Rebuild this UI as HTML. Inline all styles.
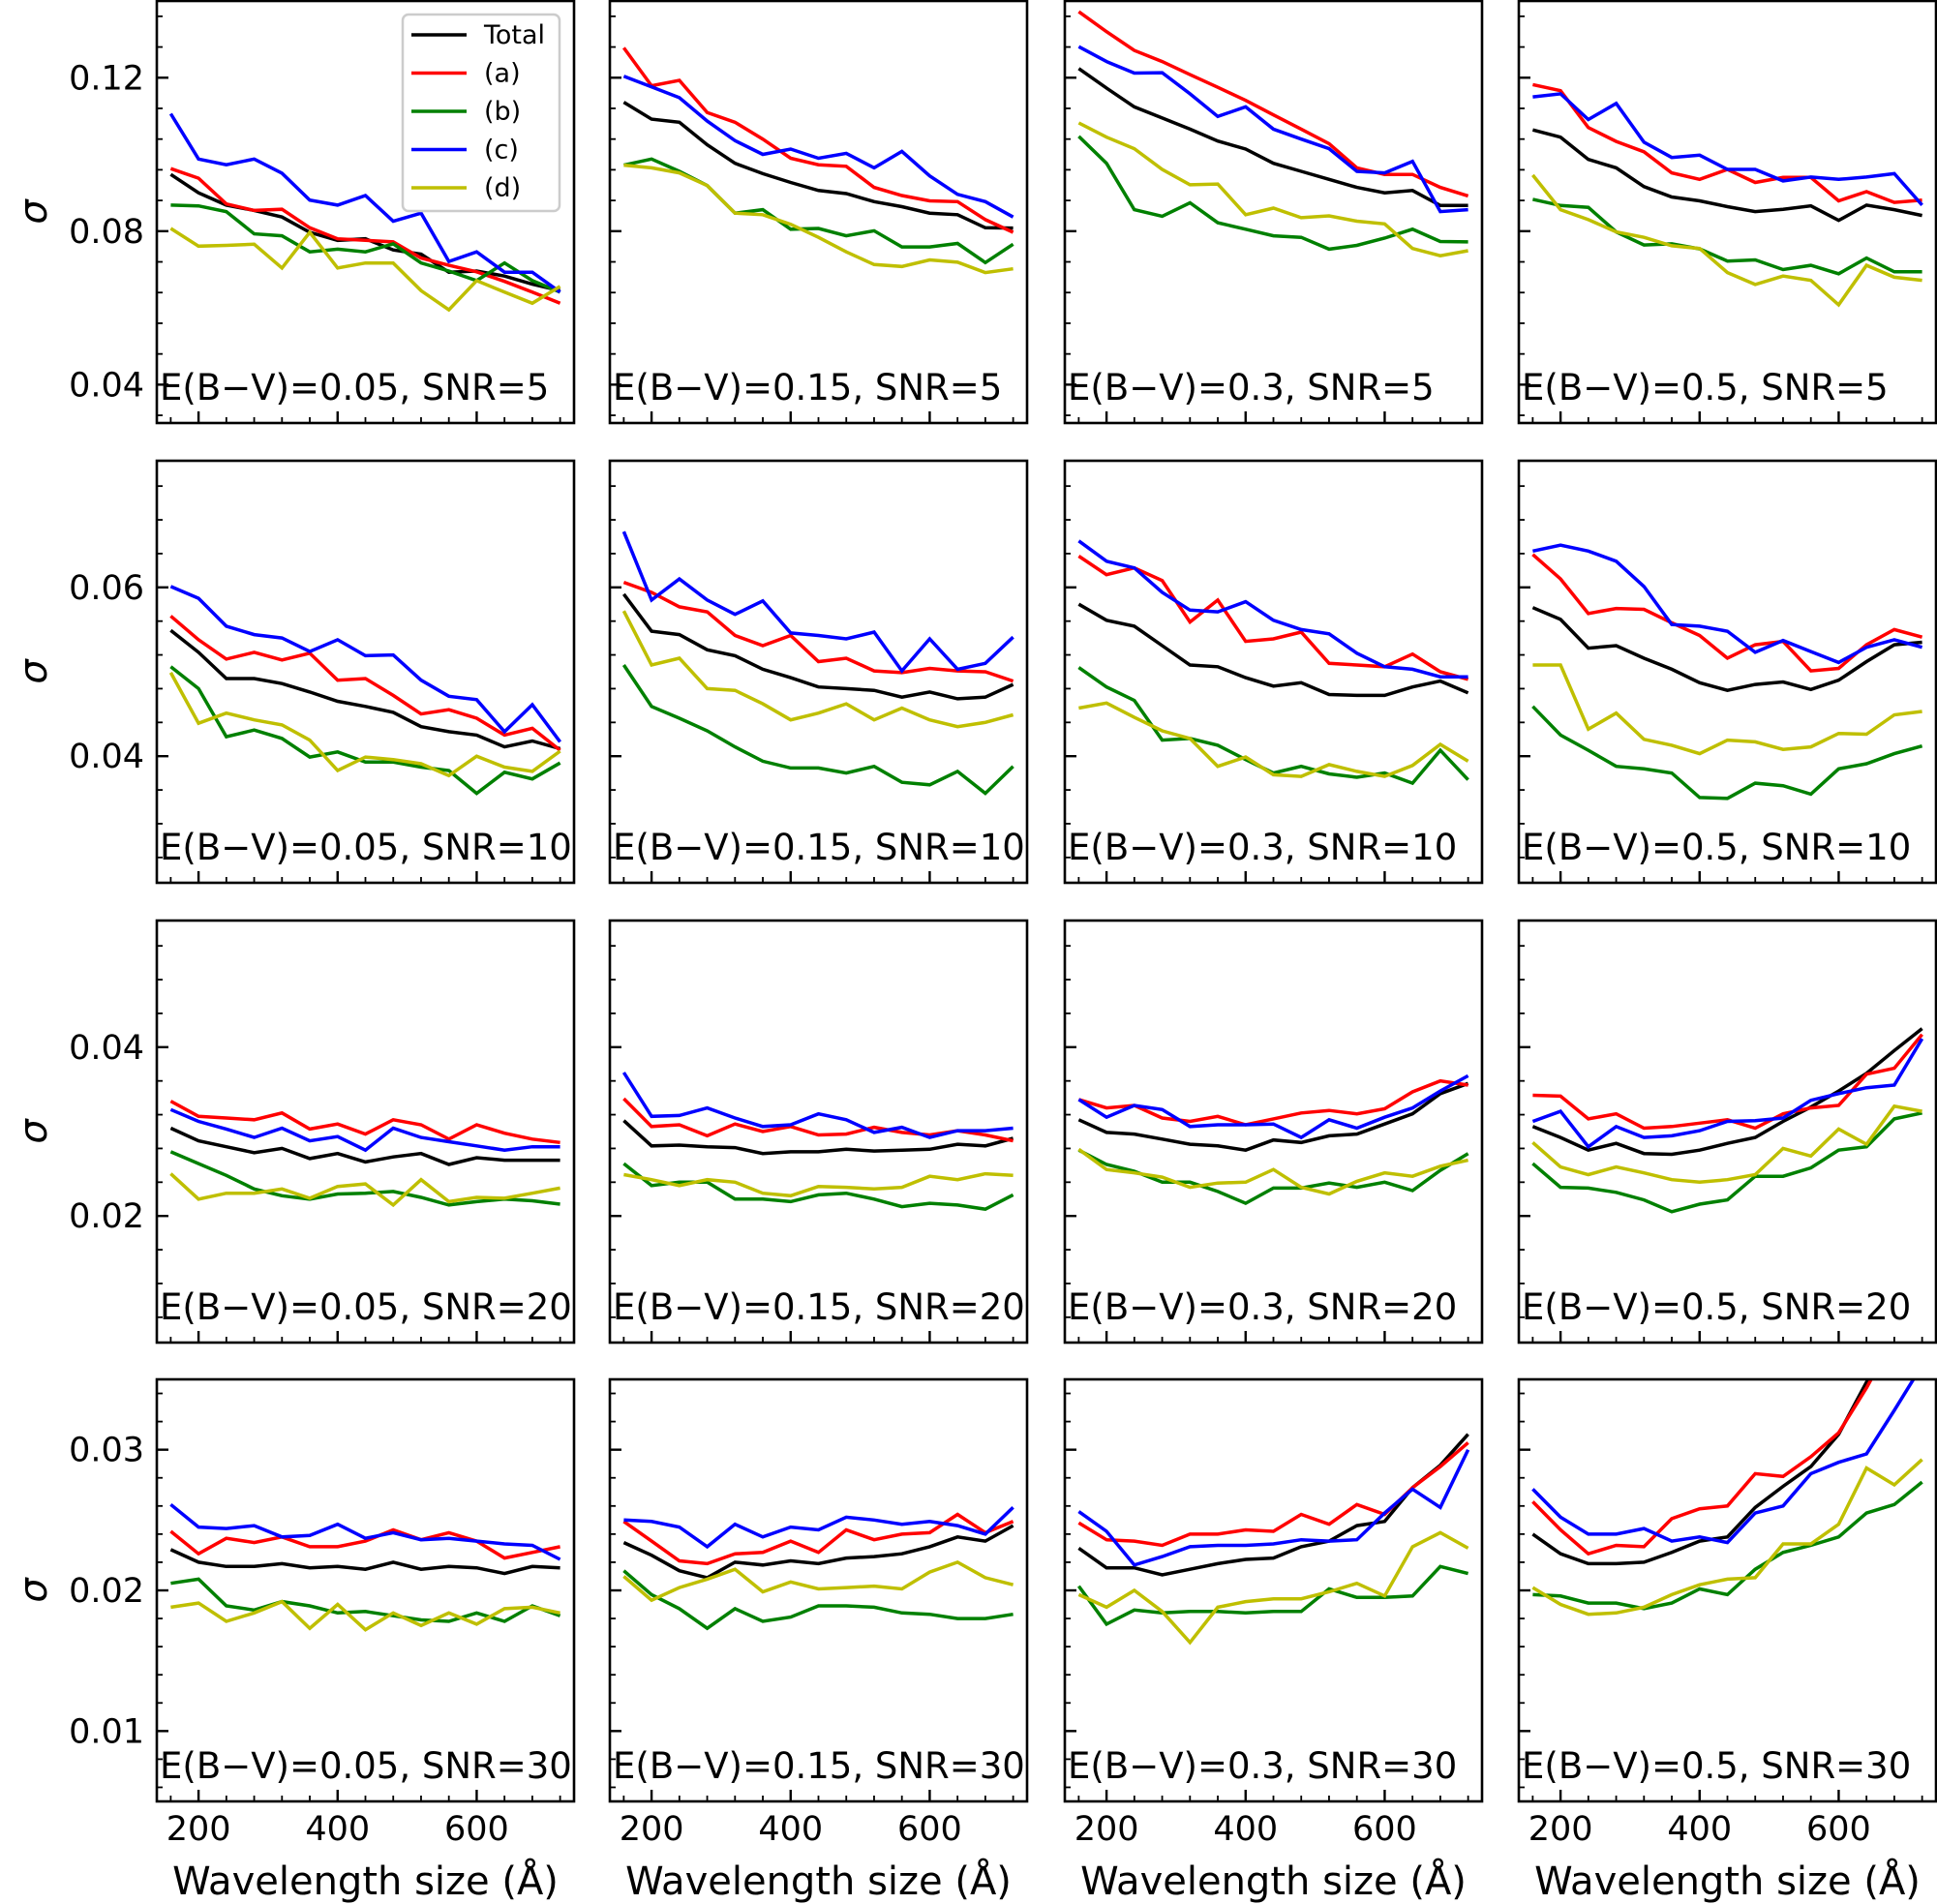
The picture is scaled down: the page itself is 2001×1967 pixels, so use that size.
<!DOCTYPE html>
<html>
<head>
<meta charset="utf-8">
<style>
html,body{margin:0;padding:0;background:#fff;}
svg{display:block;}
text{font-family:"DejaVu Sans","Liberation Sans",sans-serif;fill:#000;}
</style>
</head>
<body>
<svg id="fig" xmlns="http://www.w3.org/2000/svg" width="2001" height="1967" viewBox="0 0 2001 1967">
<rect x="0" y="0" width="2001" height="1967" fill="#fff"/>
</svg>
<script>
// ---- data ----
const wavelengths = [160,200,240,280,320,360,400,440,480,520,560,600,640,680,720];
const ebvLabels = ["0.05","0.15","0.3","0.5"];
const snrLabels = ["5","10","20","30"];
const seriesNames = ["Total","(a)","(b)","(c)","(d)"];
const xTickValues = [200,400,600];
const yTicksRow1 = [0.04,0.08,0.12];
const yTicksRow2 = [0.04,0.06];
const yTicksRow3 = [0.02,0.04];
const yTicksRow4 = [0.01,0.02,0.03];

const totalVals = [
[.0948,.0900,.0868,.0854,.0837,.0797,.0776,.0780,.0751,.0740,.0693,.0696,.0683,.0662,.0645],
[.1136,.1092,.1084,.1025,.0977,.0950,.0927,.0906,.0898,.0877,.0864,.0847,.0843,.0809,.0808],
[.1224,.1173,.1124,.1095,.1066,.1035,.1014,.0977,.0956,.0935,.0914,.0900,.0906,.0867,.0867],
[.1064,.1045,.0987,.0965,.0916,.0889,.0879,.0864,.0851,.0857,.0866,.0828,.0868,.0856,.0841],
[.0549,.0523,.0492,.0492,.0486,.0476,.0465,.0459,.0452,.0435,.0429,.0425,.0411,.0418,.0409],
[.0592,.0548,.0544,.0526,.0519,.0503,.0493,.0482,.0480,.0478,.0470,.0476,.0468,.0470,.0485],
[.0580,.0561,.0554,.0531,.0508,.0506,.0493,.0483,.0487,.0473,.0472,.0472,.0482,.0489,.0475],
[.0576,.0562,.0528,.0531,.0516,.0503,.0487,.0478,.0485,.0488,.0479,.0490,.0512,.0532,.0535],
[.0304,.0289,.0282,.0275,.0280,.0268,.0274,.0264,.0270,.0274,.0261,.0269,.0266,.0266,.0266],
[.0313,.0283,.0284,.0282,.0281,.0274,.0276,.0276,.0279,.0277,.0278,.0279,.0285,.0283,.0292],
[.0314,.0299,.0297,.0291,.0285,.0283,.0278,.0290,.0287,.0295,.0297,.0309,.0321,.0345,.0357],
[.0306,.0293,.0278,.0286,.0274,.0273,.0278,.0286,.0293,.0312,.0329,.0348,.0369,.0396,.0422],
[.0229,.0220,.0217,.0217,.0219,.0216,.0217,.0215,.0220,.0215,.0217,.0216,.0212,.0217,.0216],
[.0234,.0225,.0214,.0209,.0220,.0218,.0221,.0219,.0223,.0224,.0226,.0231,.0238,.0235,.0246],
[.0230,.0216,.0216,.0211,.0215,.0219,.0222,.0223,.0231,.0235,.0246,.0249,.0273,.0289,.0311],
[.0240,.0226,.0219,.0219,.0220,.0227,.0235,.0238,.0259,.0274,.0288,.0311,.0348,.0380,.0410]
];
const aVals = [
[.0963,.0938,.0871,.0854,.0857,.0809,.0780,.0776,.0772,.0730,.0711,.0694,.0669,.0641,.0612],
[.1278,.1179,.1193,.1109,.1084,.1040,.0990,.0973,.0969,.0914,.0893,.0879,.0877,.0830,.0797],
[.1372,.1320,.1271,.1242,.1208,.1175,.1141,.1103,.1066,.1028,.0965,.0948,.0948,.0914,.0892],
[.1182,.1166,.1070,.1034,.1007,.0952,.0935,.0961,.0927,.0940,.0940,.0879,.0903,.0875,.0881],
[.0566,.0538,.0515,.0523,.0514,.0522,.0490,.0492,.0472,.0450,.0455,.0445,.0425,.0433,.0407],
[.0606,.0594,.0577,.0571,.0543,.0531,.0543,.0512,.0516,.0501,.0499,.0504,.0501,.0500,.0489],
[.0637,.0615,.0623,.0608,.0559,.0585,.0536,.0539,.0547,.0510,.0508,.0506,.0521,.0500,.0491],
[.0639,.0610,.0569,.0575,.0574,.0558,.0543,.0516,.0532,.0536,.0501,.0504,.0532,.0550,.0541],
[.0336,.0318,.0316,.0314,.0322,.0303,.0309,.0297,.0314,.0308,.0291,.0308,.0298,.0291,.0287],
[.0339,.0306,.0308,.0295,.0309,.0300,.0306,.0296,.0297,.0305,.0299,.0296,.0301,.0296,.0289],
[.0338,.0328,.0331,.0316,.0312,.0318,.0308,.0315,.0322,.0325,.0321,.0327,.0347,.0360,.0355],
[.0343,.0342,.0315,.0321,.0304,.0306,.0310,.0314,.0304,.0321,.0328,.0331,.0368,.0375,.0415],
[.0242,.0226,.0237,.0234,.0238,.0231,.0231,.0235,.0243,.0236,.0241,.0235,.0223,.0227,.0231],
[.0249,.0235,.0221,.0219,.0226,.0227,.0235,.0227,.0243,.0236,.0240,.0241,.0254,.0241,.0249],
[.0248,.0236,.0235,.0232,.0240,.0240,.0243,.0242,.0254,.0247,.0261,.0254,.0273,.0288,.0305],
[.0263,.0243,.0226,.0232,.0231,.0251,.0258,.0260,.0283,.0281,.0295,.0312,.0344,.0380,.0410]
];
const bVals = [
[.0868,.0866,.0851,.0793,.0788,.0746,.0753,.0746,.0767,.0717,.0696,.0671,.0717,.0671,.0641],
[.0972,.0988,.0956,.0919,.0847,.0856,.0805,.0807,.0788,.0801,.0759,.0759,.0768,.0718,.0766],
[.1047,.0977,.0856,.0839,.0874,.0822,.0805,.0788,.0784,.0753,.0763,.0782,.0805,.0773,.0772],
[.0883,.0867,.0862,.0798,.0764,.0767,.0754,.0722,.0725,.0700,.0711,.0689,.0730,.0694,.0694],
[.0506,.0480,.0423,.0431,.0421,.0399,.0405,.0393,.0393,.0387,.0383,.0356,.0381,.0373,.0392],
[.0508,.0459,.0445,.0430,.0411,.0394,.0386,.0386,.0380,.0388,.0369,.0366,.0382,.0356,.0388],
[.0505,.0482,.0466,.0419,.0421,.0413,.0396,.0380,.0388,.0379,.0375,.0380,.0368,.0407,.0372],
[.0459,.0425,.0407,.0388,.0385,.0380,.0351,.0350,.0368,.0365,.0355,.0385,.0391,.0403,.0412],
[.0276,.0262,.0248,.0232,.0224,.0220,.0226,.0227,.0229,.0222,.0213,.0217,.0220,.0218,.0214],
[.0262,.0236,.0240,.0240,.0220,.0220,.0217,.0225,.0227,.0220,.0211,.0215,.0213,.0208,.0225],
[.0278,.0261,.0253,.0240,.0240,.0229,.0215,.0233,.0233,.0239,.0234,.0240,.0230,.0254,.0274],
[.0262,.0234,.0233,.0228,.0219,.0205,.0214,.0219,.0247,.0247,.0257,.0278,.0282,.0315,.0322],
[.0205,.0208,.0189,.0186,.0192,.0189,.0184,.0185,.0182,.0179,.0178,.0184,.0178,.0189,.0182],
[.0214,.0197,.0187,.0173,.0187,.0178,.0181,.0189,.0189,.0188,.0184,.0183,.0180,.0180,.0183],
[.0203,.0176,.0186,.0184,.0185,.0185,.0184,.0185,.0185,.0201,.0195,.0195,.0196,.0217,.0212],
[.0197,.0196,.0191,.0191,.0187,.0191,.0201,.0197,.0215,.0227,.0232,.0238,.0255,.0261,.0277]
];
const cVals = [
[.1106,.0988,.0973,.0988,.0951,.0881,.0868,.0893,.0826,.0847,.0721,.0746,.0693,.0693,.0641],
[.1204,.1176,.1148,.1087,.1036,.1000,.1014,.0990,.1003,.0965,.1008,.0944,.0896,.0877,.0837],
[.1281,.1242,.1212,.1213,.1158,.1099,.1124,.1066,.1040,.1015,.0956,.0952,.0982,.0851,.0856],
[.1150,.1158,.1091,.1133,.1032,.0992,.0998,.0961,.0961,.0931,.0941,.0935,.0941,.0950,.0868],
[.0601,.0587,.0554,.0544,.0540,.0524,.0538,.0519,.0520,.0490,.0471,.0467,.0429,.0461,.0417],
[.0666,.0585,.0610,.0585,.0568,.0584,.0546,.0543,.0539,.0547,.0501,.0539,.0503,.0510,.0541],
[.0655,.0631,.0623,.0594,.0573,.0571,.0583,.0561,.0550,.0545,.0522,.0506,.0503,.0494,.0494],
[.0643,.0650,.0643,.0631,.0601,.0556,.0554,.0548,.0523,.0537,.0524,.0511,.0529,.0538,.0529],
[.0326,.0312,.0303,.0293,.0304,.0289,.0294,.0278,.0304,.0293,.0288,.0283,.0278,.0282,.0282],
[.0370,.0318,.0319,.0328,.0316,.0306,.0308,.0321,.0314,.0299,.0305,.0293,.0301,.0301,.0304],
[.0338,.0317,.0331,.0326,.0306,.0308,.0308,.0309,.0293,.0314,.0304,.0317,.0328,.0348,.0366],
[.0312,.0324,.0282,.0306,.0293,.0295,.0301,.0312,.0313,.0316,.0337,.0345,.0352,.0355,.0410],
[.0261,.0245,.0244,.0246,.0238,.0239,.0247,.0237,.0241,.0236,.0237,.0235,.0233,.0232,.0222],
[.0250,.0249,.0245,.0231,.0247,.0238,.0245,.0243,.0252,.0250,.0247,.0249,.0246,.0240,.0259],
[.0256,.0242,.0218,.0224,.0231,.0232,.0232,.0233,.0236,.0235,.0236,.0255,.0272,.0259,.0300],
[.0272,.0252,.0240,.0240,.0244,.0235,.0238,.0234,.0255,.0260,.0283,.0291,.0297,.0328,.0360]
];
const dVals = [
[.0807,.0761,.0763,.0766,.0704,.0797,.0704,.0717,.0717,.0645,.0595,.0671,.0641,.0612,.0656],
[.0972,.0965,.0952,.0919,.0847,.0843,.0818,.0784,.0746,.0713,.0708,.0725,.0719,.0692,.0702],
[.1082,.1045,.1015,.0961,.0921,.0923,.0843,.0860,.0835,.0840,.0826,.0819,.0755,.0736,.0749],
[.0946,.0856,.0830,.0798,.0784,.0762,.0755,.0692,.0661,.0683,.0672,.0608,.0711,.0680,.0672],
[.0499,.0439,.0451,.0443,.0437,.0419,.0383,.0399,.0396,.0391,.0377,.0400,.0387,.0382,.0406],
[.0572,.0508,.0516,.0480,.0478,.0462,.0443,.0451,.0462,.0443,.0457,.0443,.0435,.0440,.0449],
[.0457,.0463,.0446,.0430,.0421,.0388,.0399,.0378,.0376,.0390,.0382,.0376,.0389,.0414,.0394],
[.0508,.0508,.0432,.0451,.0420,.0413,.0403,.0419,.0417,.0408,.0411,.0427,.0426,.0449,.0453],
[.0250,.0220,.0227,.0227,.0232,.0221,.0235,.0238,.0213,.0243,.0217,.0222,.0221,.0227,.0233],
[.0249,.0243,.0236,.0243,.0240,.0227,.0224,.0235,.0234,.0232,.0234,.0247,.0243,.0250,.0248],
[.0279,.0255,.0251,.0246,.0234,.0239,.0240,.0255,.0234,.0226,.0241,.0251,.0247,.0259,.0266],
[.0287,.0258,.0249,.0258,.0251,.0243,.0240,.0243,.0249,.0280,.0271,.0303,.0285,.0330,.0324],
[.0188,.0191,.0178,.0184,.0192,.0173,.0190,.0172,.0184,.0175,.0184,.0176,.0187,.0188,.0184],
[.0210,.0193,.0202,.0208,.0215,.0199,.0206,.0201,.0202,.0203,.0201,.0213,.0220,.0209,.0204],
[.0197,.0188,.0200,.0185,.0163,.0188,.0192,.0194,.0194,.0199,.0205,.0196,.0231,.0241,.0230],
[.0202,.0190,.0183,.0184,.0188,.0197,.0204,.0208,.0209,.0233,.0233,.0247,.0287,.0275,.0293]
];

// ---- layout ----
const NS = "http://www.w3.org/2000/svg";
const svg = document.getElementById('fig');
const colLeft = [162,630,1100,1569];
const rowTop = [1,476,951,1425];
const PW = 431, PH = 436;
const xMin = 140, xMax = 740;
const yLims = [[0.03,0.14],[0.025,0.075],[0.005,0.055],[0.005,0.035]];
const yMinorStep = [0.008,0.004,0.004,0.002];
const yMajors = [yTicksRow1,yTicksRow2,yTicksRow3,yTicksRow4];
const allSeries = [totalVals,aVals,bVals,cVals,dVals];
const colors = ["#000000","#ff0000","#008000","#0000ff","#bfbf00"];
const seriesKeys = ["total","a","b","c","d"];

function mk(tag, attrs, parent){
  const e = document.createElementNS(NS, tag);
  for (const k in attrs) e.setAttribute(k, attrs[k]);
  (parent||svg).appendChild(e);
  return e;
}

for (let r=0;r<4;r++){
  for (let c=0;c<4;c++){
    const p = r*4+c;
    const L = colLeft[c], T = rowTop[r];
    const [y0,y1] = yLims[r];
    const xs = v => L + (v-xMin)/(xMax-xMin)*PW;
    const ys = v => T + PH - (v-y0)/(y1-y0)*PH;
    const g = mk('g', {});
    
    
    const cp = mk('clipPath', {id:'clip'+p}, g);
    mk('rect', {x:L, y:T, width:PW, height:PH}, cp);

    for (let s=0;s<5;s++){
      const vals = allSeries[s][p];
      const pts = vals.map((v,i)=> xs(wavelengths[i]).toFixed(1)+','+ys(v).toFixed(1)).join(' ');
      const pl = mk('polyline', {points:pts, fill:'none', stroke:colors[s], 'stroke-width':3.5, 'stroke-linejoin':'miter', 'clip-path':'url(#clip'+p+')'}, g);
      
      
    }

    const step = yMinorStep[r];
    for (let k=Math.ceil(y0/step-1e-6); k*step<=y1+1e-9; k++){
      const v = k*step;
      const yy = ys(v);
      if (yy < T+1 || yy > T+PH-1) continue;
      const isMajor = yMajors[r].some(m=>Math.abs(m-v)<1e-6);
      const tk = mk('line', {x1:L, x2:L+(isMajor?12:6), y1:yy, y2:yy, stroke:'#000', 'stroke-width':isMajor?2.4:1.8}, g);
      
      
      if (isMajor && c===0){
        const t = mk('text', {x:L-13, y:yy+12, 'font-size':35, 'text-anchor':'end'}, g);
        t.textContent = v.toFixed(2);
        
        
      }
    }
    for (let v=160; v<=720; v+=40){
      const xx = xs(v);
      const isMajor = xTickValues.indexOf(v)>=0;
      const tk = mk('line', {x1:xx, x2:xx, y1:T+PH, y2:T+PH-(isMajor?12:6), stroke:'#000', 'stroke-width':isMajor?2.4:1.8}, g);
      
      
      if (isMajor && r===3){
        const t = mk('text', {x:xx, y:T+PH+40, 'font-size':35, 'text-anchor':'middle'}, g);
        t.textContent = String(v);
        
        
      }
    }
    const fr = mk('rect', {x:L, y:T, width:PW, height:PH, fill:'none', stroke:'#000', 'stroke-width':2.6}, g);
    
    
    const an = mk('text', {x:L+3, y:T+PH-24, 'font-size':37}, g);
    an.textContent = 'E(B\u2212V)=' + ebvLabels[c] + ', SNR=' + snrLabels[r];
    
    

    if (c===0){
      const yl = mk('text', {x:0, y:0, 'font-size':40, 'font-style':'italic', 'text-anchor':'middle', transform:'translate(48,'+(T+PH/2)+') rotate(-90)'}, g);
      yl.textContent = '\u03C3';
      
      
    }
    if (r===3){
      const xl = mk('text', {x:L+PW/2, y:1957, 'font-size':40, 'text-anchor':'middle'}, g);
      xl.textContent = 'Wavelength size (\u00C5)';
      
      
    }
  }
}

const lg = mk('g', {});


const lb = mk('rect', {x:416, y:15, width:162, height:203, rx:6, ry:6, fill:'#fff', 'fill-opacity':0.8, stroke:'#cccccc', 'stroke-width':2.5}, lg);


for (let s=0;s<5;s++){
  const yy = 36 + s*39.5;
  const ln = mk('line', {x1:425, x2:482, y1:yy, y2:yy, stroke:colors[s], 'stroke-width':3.5}, lg);
  
  
  const t = mk('text', {x:500, y:yy+9, 'font-size':27}, lg);
  t.textContent = seriesNames[s];
  
  
}
</script>
</body>
</html>
